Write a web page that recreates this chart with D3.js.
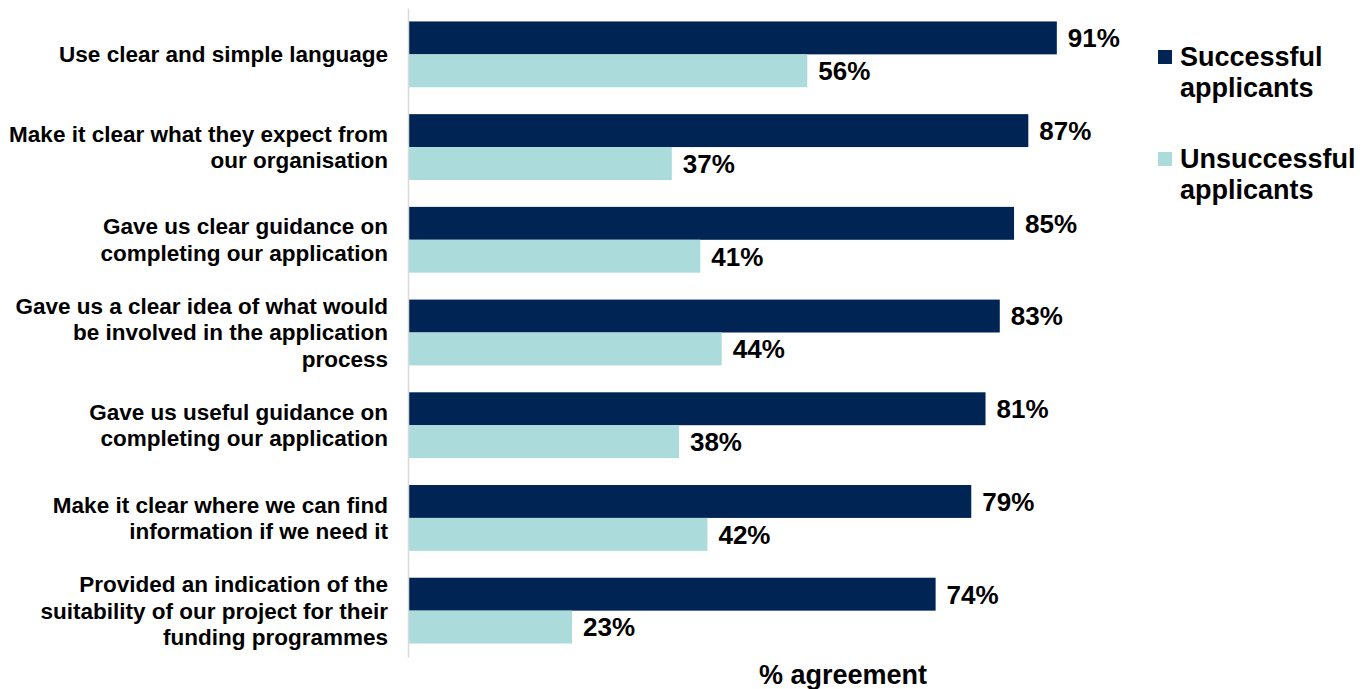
<!DOCTYPE html>
<html>
<head>
<meta charset="utf-8">
<script src="https://cdnjs.cloudflare.com/ajax/libs/d3/7.8.5/d3.min.js"></script>
<style>
  body { margin: 0; background: #fff; }
  text { font-family: "Liberation Sans", Arial, sans-serif; font-weight: bold; fill: #000; }
</style>
</head>
<body>
<div id="chart"></div>
<script>
const categories = [
  ["Use clear and simple language"],
  ["Make it clear what they expect from", "our organisation"],
  ["Gave us clear guidance on", "completing our application"],
  ["Gave us a clear idea of what would", "be involved in the application", "process"],
  ["Gave us useful guidance on", "completing our application"],
  ["Make it clear where we can find", "information if we need it"],
  ["Provided an indication of the", "suitability of our project for their", "funding programmes"]
];
const successful = [91, 87, 85, 83, 81, 79, 74];
const unsuccessful = [56, 37, 41, 44, 38, 42, 23];
const seriesNames = ["Successful applicants", "Unsuccessful applicants"];
const colors = ["#002554", "#abdcdb"];

const width = 1367, height = 689;
const svg = d3.select("#chart").append("svg")
    .attr("width", width)
    .attr("height", height);

const x = d3.scaleLinear().domain([0, 100]).range([408, 1121]);
const y = d3.scaleBand().domain(d3.range(categories.length)).range([8, 657]).paddingInner(0.29).paddingOuter(0.145);
const sub = d3.scaleBand().domain([0, 1]).range([0, y.bandwidth()]);

const data = categories.map((c, i) => ({ i, vals: [successful[i], unsuccessful[i]] }));

const groups = svg.selectAll("g.cat")
    .data(data)
  .enter().append("g")
    .attr("class", "cat")
    .attr("transform", d => "translate(0," + y(d.i) + ")");

groups.selectAll("rect")
    .data(d => d.vals.map((v, s) => ({ v, s })))
  .enter().append("rect")
    .attr("x", x(0))
    .attr("y", d => sub(d.s))
    .attr("width", d => x(d.v) - x(0))
    .attr("height", sub.bandwidth())
    .attr("fill", d => colors[d.s]);

groups.selectAll("text.val")
    .data(d => d.vals.map((v, s) => ({ v, s })))
  .enter().append("text")
    .attr("class", "val")
    .attr("x", d => x(d.v) + 11)
    .attr("y", d => sub(d.s) + sub.bandwidth() / 2)
    .attr("dy", "0.36em")
    .style("font-size", "26px")
    .text(d => d.v + "%");

// category labels
groups.append("text")
    .attr("text-anchor", "end")
    .style("font-size", "22.5px")
    .each(function(d) {
      const lines = categories[d.i];
      const lh = 26.5;
      const t = d3.select(this);
      lines.forEach((l, k) => {
        t.append("tspan")
          .attr("x", 388)
          .attr("y", y.bandwidth() / 2 + (k - (lines.length - 1) / 2) * lh)
          .attr("dy", "0.35em")
          .text(l);
      });
    });

// axis line
svg.append("g")
    .attr("transform", "translate(" + x(0) + ",0)")
    .call(d3.axisLeft(d3.scaleLinear().range([8, 657])).ticks(0).tickSize(0))
    .call(g => g.select(".domain").attr("stroke", "#d9d9d9").attr("stroke-width", 1.5));

// axis title
svg.append("text")
    .attr("x", 843)
    .attr("y", 684)
    .attr("text-anchor", "middle")
    .style("font-size", "27px")
    .text("% agreement");

// legend
const legend = svg.selectAll("g.leg")
    .data(seriesNames)
  .enter().append("g")
    .attr("class", "leg")
    .attr("transform", (d, i) => "translate(1158," + (50 + i * 102) + ")");

legend.append("rect")
    .attr("width", 14)
    .attr("height", 14)
    .attr("fill", (d, i) => colors[i]);

legend.append("text")
    .style("font-size", "27px")
    .each(function(d) {
      const words = d.split(" ");
      const t = d3.select(this);
      words.forEach((w, k) => {
        t.append("tspan").attr("x", 22).attr("y", 16 + k * 31).text(w);
      });
    });
</script>
</body>
</html>
